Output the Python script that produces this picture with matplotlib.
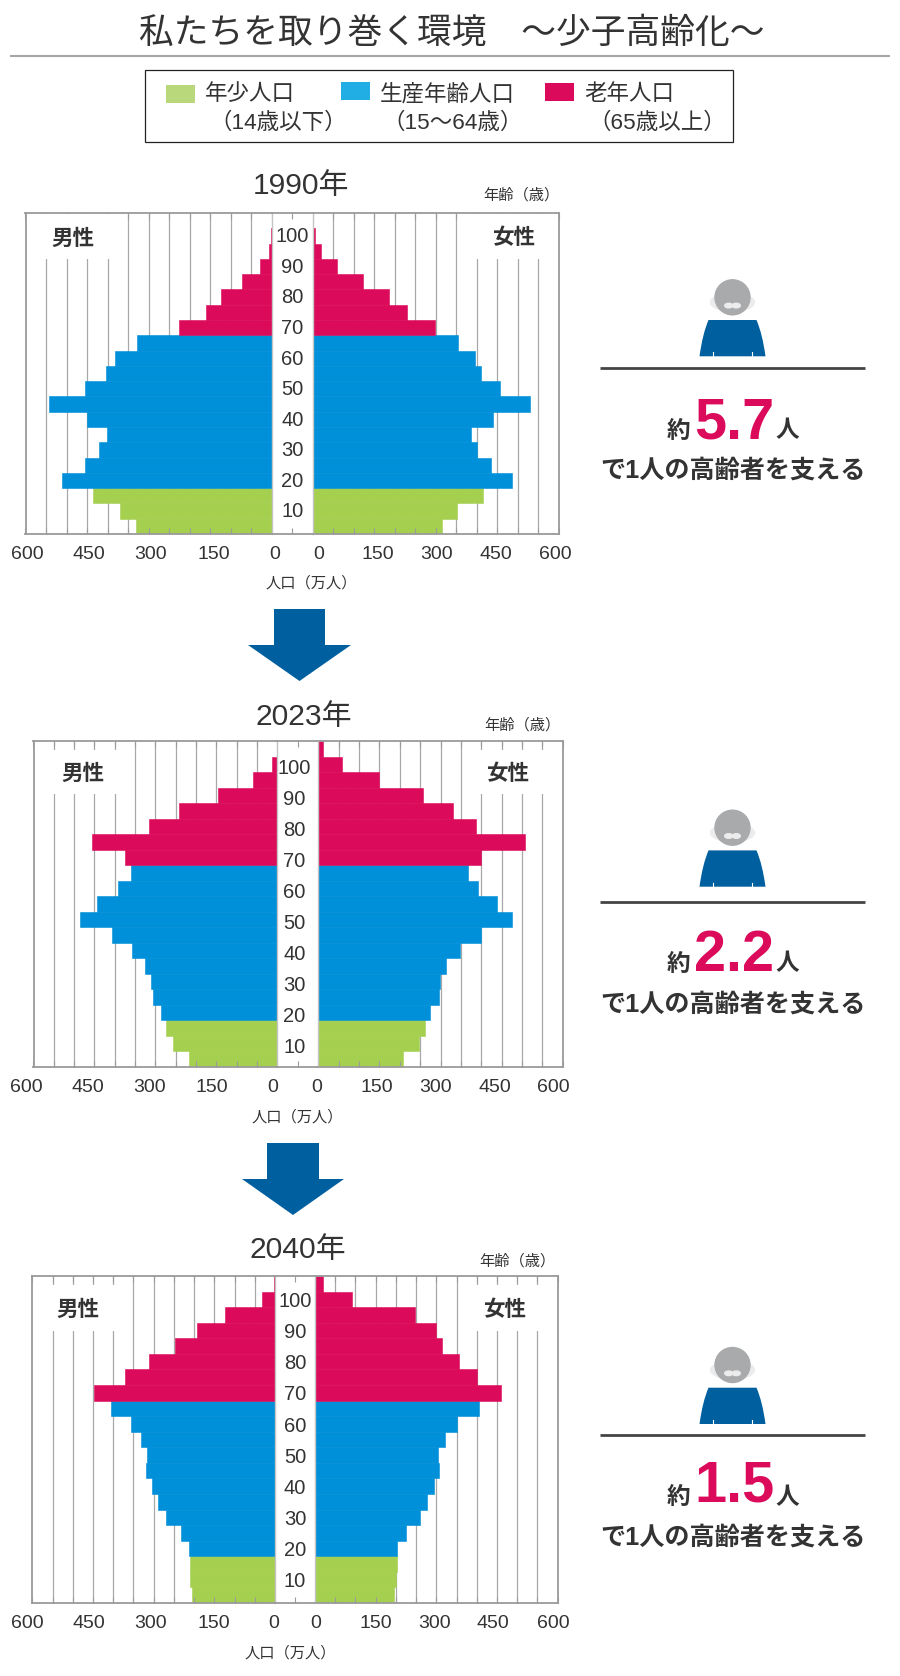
import matplotlib
matplotlib.use('Agg')
import numpy as np
import matplotlib.pyplot as plt
from matplotlib.patches import Rectangle, Polygon, Circle, Ellipse, PathPatch
from matplotlib.path import Path
from matplotlib.transforms import ScaledTranslation

plt.rcParams['font.family'] = ['Liberation Sans', 'Noto Sans CJK JP']

# lower bound of each age band: 0-4, 5-9, ... 95-99, 100+
ages = np.arange(0, 105, 5)
age_labels = [10, 20, 30, 40, 50, 60, 70, 80, 90, 100]
tick_values = [0, 150, 300, 450, 600]
minor_values = [50, 100, 200, 250, 350, 400, 500, 550]

male_1990 = [330, 369, 435, 511, 454, 420, 401, 451, 542, 454, 405, 381, 329, 226, 160, 125, 72, 29, 8, 2, 0.5]
female_1990 = [315, 351, 414, 486, 434, 401, 385, 440, 530, 456, 410, 395, 354, 297, 229, 187, 122, 58, 21, 6, 1]
male_2023 = [218, 256, 274, 285, 307, 311, 326, 357, 408, 485, 443, 392, 361, 376, 455, 316, 241, 146, 60, 13, 1]
female_2023 = [209, 246, 263, 274, 296, 298, 313, 347, 399, 475, 439, 391, 368, 399, 507, 388, 331, 256, 149, 58, 12]
male_2040 = [204, 209, 211, 213, 233, 270, 289, 305, 319, 317, 332, 356, 405, 448, 370, 311, 246, 194, 124, 31, 3]
female_2040 = [196, 201, 202, 203, 224, 260, 278, 293, 306, 304, 321, 351, 405, 460, 400, 356, 314, 299, 248, 92, 21]

GREEN = '#A5CF4E'
BLUE = '#008FD9'
PINK = '#DC0A5A'
DARK_BLUE = '#00609F'
TEXT = '#333333'
FRAME = '#9a9a9a'
GRID = '#a8a8a8'

W, H = 900, 1676
fig = plt.figure(figsize=(W / 100, H / 100), dpi=100, facecolor='white')


def px_axes(x0, y0, x1, y1):
    return fig.add_axes([x0 / W, 1 - y1 / H, (x1 - x0) / W, (y1 - y0) / H])


def side_panel(box, male, values, shifts, spine):
    ax = px_axes(*box)
    colors = [GREEN if a < 15 else BLUE if a < 65 else PINK for a in ages]
    # edge in the bar colour so no white seam shows between bands
    ax.barh(ages + 2.5, values, height=5, color=colors,
            edgecolor=colors, linewidth=0.4, zorder=1)
    for v in minor_values + tick_values[1:-1]:
        ax.axvline(v, color=GRID, lw=0.9, zorder=0.5)
    ax.set_xlim(600, 0) if male else ax.set_xlim(0, 600)
    ax.set_ylim(0, 105)
    ax.set_axisbelow(False)
    ax.set_yticks([])
    ax.set_xticks(tick_values)
    ax.set_xticks(minor_values, minor=True)
    ax.tick_params(which='both', axis='x', direction='in', top=True, length=4.5,
                   width=0.8, color=FRAME, pad=8.5, labelsize=14, labelcolor=TEXT)
    for lab, dx in zip(ax.get_xticklabels(), shifts):
        lab.set_transform(lab.get_transform() + ScaledTranslation(dx / 100, 0, fig.dpi_scale_trans))
    for name, sp in ax.spines.items():
        sp.set_color(FRAME)
        sp.set_linewidth(1.3)
    ax.spines[spine].set_visible(False)
    return ax


def pyramid(frame, male, female, left_shifts, right_shifts, label_x, label_dy):
    left, zero_l, zero_r, right, top, bottom = frame
    side_panel((left, top, zero_l, bottom), True, male, left_shifts, 'right')
    side_panel((zero_r, top, right, bottom), False, female, right_shifts, 'left')

    # white strip in the middle with the age labels
    mid = px_axes(zero_l, top, zero_r, bottom)
    mid.set_xlim(0, 1)
    mid.set_ylim(0, 105)
    mid.set_yticks([])
    mid.set_xticks([0.5])
    mid.set_xticklabels([])
    mid.tick_params(axis='x', direction='in', top=True, length=4.5, width=0.8, color=FRAME)
    for name, sp in mid.spines.items():
        sp.set_color(FRAME if name in ('top', 'bottom') else '#c4c4c4')
        sp.set_linewidth(1.3 if name in ('top', 'bottom') else 1.0)
    for a in age_labels:
        mid.text(label_x, a - 2.5 - label_dy, str(a), ha='center', va='center', fontsize=14.5, color=TEXT)


def person(cy, line_y, num, num_y, yaku_y, yaku_x, hito_x, sub_y):
    cx = 732.5
    ov.add_patch(Ellipse((cx, cy + 5), 44, 18, color='#ececec', zorder=3))
    ov.add_patch(Circle((cx, cy), 17.5, color='#a9aaac', zorder=4))
    ov.add_patch(Ellipse((cx - 3.8, cy + 8.3), 8, 4.6, color='#ececec', zorder=5))
    ov.add_patch(Ellipse((cx + 3.8, cy + 8.3), 8, 4.6, color='#ececec', zorder=5))
    t = cy + 22.7
    b = cy + 59
    verts = [(cx - 24, t), (cx + 24, t), (cx + 30, t + 14), (cx + 33, b), (cx - 33, b),
             (cx - 30, t + 14), (cx - 24, t)]
    codes = [Path.MOVETO, Path.LINETO, Path.CURVE3, Path.CURVE3, Path.LINETO, Path.CURVE3, Path.CURVE3]
    ov.add_patch(PathPatch(Path(verts, codes), facecolor=DARK_BLUE, edgecolor='none', zorder=3))
    for sx in (-1, 1):
        ov.plot([cx + sx * 19.5, cx + sx * 19.5], [b - 4, b], color='white', lw=0.8, zorder=4)
    ov.plot([600, 865], [line_y, line_y], color='#444444', lw=2.0, solid_capstyle='butt')
    ov.text(yaku_x, yaku_y, '約', ha='center', va='center', fontsize=17, weight='bold', color=TEXT)
    ov.text(734, num_y, num, ha='center', va='center', fontsize=41.5, weight='bold', color=PINK)
    ov.text(hito_x, yaku_y, '人', ha='center', va='center', fontsize=17, weight='bold', color=TEXT)
    ov.text(733, sub_y, 'で1人の高齢者を支える', ha='center', va='center', fontsize=18.1,
            weight='bold', color=TEXT)


pyramid((25.5, 272, 312.7, 559, 213, 534), male_1990, female_1990,
        [2.3, 3, 2, 1.7, 2.3], [5.7, 4, 1, -1.7, -3.7], 0.5, 0.3)
pyramid((33.5, 277.3, 318.3, 562.7, 741, 1067), male_2023, female_2023,
        [-5, -5, -6, -7, -7], [-1.7, -3, -5, -7, -9], 0.42, 1.2)
pyramid((32.3, 275, 315, 557.7, 1276, 1603), male_2040, female_2040,
        [-1.3, -1, -3, -3.7, -4.7], [0.7, 0, -2.3, -3.7, -4.7], 0.5, 0.7)

# everything else is laid out in pixels on a see-through layer
ov = fig.add_axes([0, 0, 1, 1], zorder=5)
ov.set_xlim(0, W)
ov.set_ylim(H, 0)
ov.axis('off')
ov.patch.set_alpha(0)

ov.text(452, 33, '私たちを取り巻く環境\u3000～少子高齢化～', ha='center', va='center', fontsize=25, color=TEXT)
ov.plot([10, 890], [56, 56], color='#a6a6a6', lw=1.5, solid_capstyle='butt')

ov.add_patch(Rectangle((144.5, 70), 588, 72, facecolor='white', edgecolor='#222222', lw=0.9))
legend_names = ['年少人口', '生産年齢人口', '老年人口']
legend_ranges = ['（14歳以下）', '（15～64歳）', '（65歳以上）']
legend_colors = ['#B9D87B', '#21AEE5', PINK]
swatch_x = [166, 341, 545]
swatch_y = [85, 82, 83]
name_x = [205, 380, 584]
range_x = [278, 453, 657]
for i in range(3):
    ov.add_patch(Rectangle((swatch_x[i], swatch_y[i]), 29, 18.5, color=legend_colors[i], lw=0))
    ov.text(name_x[i], 95, legend_names[i], ha='left', va='center', fontsize=16.2, color=TEXT)
    ov.text(range_x[i], 123, legend_ranges[i], ha='center', va='center', fontsize=16.2, color=TEXT)

years = ['1990年', '2023年', '2040年']
year_x = [301, 304, 298]
year_y = [186, 717, 1250]
age_x = [521, 522, 517.5]
age_y = [195, 725, 1261]
unit_x = [311, 297, 290]
unit_y = [583, 1117, 1653]
for i in range(3):
    ov.text(year_x[i], year_y[i], years[i], ha='center', va='center', fontsize=21.6, color=TEXT)
    ov.text(age_x[i], age_y[i], '年齢（歳）', ha='center', va='center', fontsize=11, color=TEXT)
    ov.text(unit_x[i], unit_y[i], '人口（万人）', ha='center', va='center', fontsize=11, color=TEXT)

# white patches that cut the grid lines behind 男性 / 女性
male_x = [72.5, 83, 78]
female_x = [514, 508, 505]
label_y = [239, 774, 1310]
boxes_top = [214.5, 750, 1285]
boxes_bottom = [259, 794, 1331]
boxes_l = [(27, 110), (40, 118), (40, 116)]
boxes_r = [(472, 558), (470, 561), (470, 556)]
for i in range(3):
    for (x0, x1), tx, s in ((boxes_l[i], male_x[i], '男性'), (boxes_r[i], female_x[i], '女性')):
        ov.add_patch(Rectangle((x0, boxes_top[i]), x1 - x0, boxes_bottom[i] - boxes_top[i], color='white', lw=0))
        ov.text(tx, label_y[i], s, ha='center', va='center', fontsize=15.5, weight='bold', color=TEXT)

for x0, x1, s0, s1, y0, ym, y1 in ((248, 351, 274, 325, 609, 645, 681),
                                   (242, 344, 267, 319, 1143, 1179, 1215)):
    ov.add_patch(Polygon([(s0, y0), (s1, y0), (s1, ym), (x1, ym), ((x0 + x1) / 2, y1), (x0, ym), (s0, ym)],
                         color=DARK_BLUE, lw=0))

person(297.3, 367.7, '5.7', 423, 431, 678, 787, 471)
person(827.7, 901.7, '2.2', 956, 964, 678, 787, 1004.5)
person(1365, 1434.7, '1.5', 1486.5, 1497.5, 678, 787, 1538)

fig.savefig('out.png', dpi=100, facecolor='white')
